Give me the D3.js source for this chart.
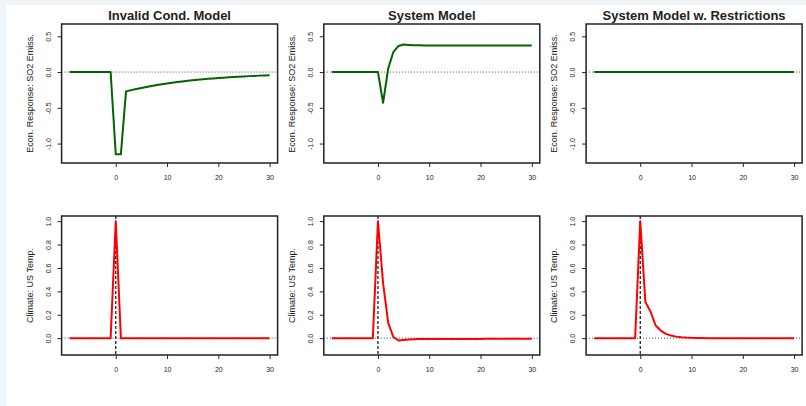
<!DOCTYPE html>
<html>
<head>
<meta charset="utf-8">
<script src="https://cdn.jsdelivr.net/npm/d3@7"></script>
<style>
  body { margin: 0; background: #eef4f8; }
  svg { display: block; }
  text { font-family: "Liberation Sans", Arial, sans-serif; fill: #222; }
</style>
</head>
<body>
<svg id="chart" width="806" height="406"></svg>
<script>
// lags of the impulse response
var lags = [-9, -8, -7, -6, -5, -4, -3, -2, -1, 0, 1, 2, 3, 4, 5, 6, 7, 8, 9, 10,
    11, 12, 13, 14, 15, 16, 17, 18, 19, 20, 21, 22, 23, 24, 25, 26, 27, 28, 29, 30];

var titles = ["Invalid Cond. Model", "System Model", "System Model w. Restrictions"];
var rowLabels = ["Econ. Response: SO2 Emiss.", "Climate: US Temp."];

var xTicks = [0, 10, 20, 30];
var yTicksTop = [-1.0, -0.5, 0.0, 0.5];
var yTickLabelsTop = ["-1.0", "-0.5", "0.0", "0.5"];
var yTicksBottom = [0.0, 0.2, 0.4, 0.6, 0.8, 1.0];
var yTickLabelsBottom = ["0.0", "0.2", "0.4", "0.6", "0.8", "1.0"];

// emissions response (top row)
var so2Invalid = [0, 0, 0, 0, 0, 0, 0, 0, 0, -1.15, -1.15, -0.270, -0.253, -0.237, -0.222,
    -0.208, -0.194, -0.182, -0.170, -0.159, -0.149, -0.140, -0.131, -0.123, -0.115,
    -0.108, -0.101, -0.095, -0.089, -0.084, -0.079, -0.074, -0.069, -0.065, -0.061,
    -0.057, -0.054, -0.050, -0.047, -0.044];
var so2System = [0, 0, 0, 0, 0, 0, 0, 0, 0, 0, -0.43, 0.05, 0.28, 0.365, 0.385,
    0.380, 0.376, 0.374, 0.373, 0.373, 0.373, 0.373, 0.373, 0.373, 0.373,
    0.373, 0.373, 0.373, 0.373, 0.372, 0.372, 0.372, 0.372, 0.372, 0.372,
    0.372, 0.372, 0.372, 0.372, 0.372];
var so2Restricted = [0, 0, 0, 0, 0, 0, 0, 0, 0, 0, 0, 0, 0, 0, 0, 0, 0, 0, 0, 0,
    0, 0, 0, 0, 0, 0, 0, 0, 0, 0, 0, 0, 0, 0, 0, 0, 0, 0, 0, 0];

// temperature response (bottom row)
var tempInvalid = [0, 0, 0, 0, 0, 0, 0, 0, 0, 1.0, 0, 0, 0, 0, 0, 0, 0, 0, 0, 0,
    0, 0, 0, 0, 0, 0, 0, 0, 0, 0, 0, 0, 0, 0, 0, 0, 0, 0, 0, 0];
var tempSystem = [0, 0, 0, 0, 0, 0, 0, 0, 0, 1.0, 0.47, 0.13, 0.01, -0.02, -0.016,
    -0.012, -0.009, -0.008, -0.008, -0.008, -0.008, -0.008, -0.007, -0.007, -0.007,
    -0.007, -0.007, -0.007, -0.007, -0.007, -0.006, -0.006, -0.006, -0.006, -0.006,
    -0.006, -0.006, -0.006, -0.006, -0.006];
var tempRestricted = [0, 0, 0, 0, 0, 0, 0, 0, 0, 1.0, 0.31, 0.228, 0.108, 0.065, 0.037,
    0.022, 0.013, 0.008, 0.005, 0.003, 0.002, 0.001, 0, 0, 0,
    0, 0, 0, 0, 0, 0, 0, 0, 0, 0, 0, 0, 0, 0, 0];

var panels = [
    { row: 0, col: 0, values: so2Invalid },
    { row: 0, col: 1, values: so2System },
    { row: 0, col: 2, values: so2Restricted },
    { row: 1, col: 0, values: tempInvalid },
    { row: 1, col: 1, values: tempSystem },
    { row: 1, col: 2, values: tempRestricted }
];

var svg = d3.select("#chart");
svg.append("rect")
    .attr("x", 6).attr("y", 5)
    .attr("width", 800).attr("height", 401)
    .attr("fill", "#fff");

var colLeft = [61.6, 323.8, 586.1],
    rowTop = [24, 216],
    plotW = 216,
    plotH = 139;

// R style: extend the range by 4% on each side
var pad = function (lo, hi) {
    var d = (hi - lo) * 0.04;
    return [lo - d, hi + d];
};

panels.forEach(function (p) {
    var top = p.row === 0;
    var g = svg.append("g")
        .attr("transform", "translate(" + colLeft[p.col] + "," + rowTop[p.row] + ")");

    var x = d3.scaleLinear().domain(pad(-9, 30)).range([0, plotW]);
    var y = d3.scaleLinear()
        .domain(top ? pad(-1.2, 0.6) : pad(-0.1, 1.0))
        .range([plotH, 0]);

    // reference lines
    g.append("line")
        .attr("x1", 0).attr("x2", plotW)
        .attr("y1", y(0)).attr("y2", y(0))
        .attr("stroke", "#444")
        .attr("stroke-width", 1)
        .attr("stroke-dasharray", "1,2");
    if (!top) {
        g.append("line")
            .attr("x1", x(0)).attr("x2", x(0))
            .attr("y1", 0).attr("y2", plotH)
            .attr("stroke", "#222")
            .attr("stroke-width", 1.3)
            .attr("stroke-dasharray", "3,2");
    }

    // response line
    var line = d3.line()
        .x(function (d, i) { return x(lags[i]); })
        .y(function (d) { return y(d); });
    g.append("path")
        .datum(p.values)
        .attr("d", line)
        .attr("fill", "none")
        .attr("stroke", top ? "#006400" : "#ff0000")
        .attr("stroke-width", 2)
        .attr("stroke-linejoin", "round");

    // x axis
    var ya = top ? yTicksTop : yTicksBottom;
    var yl = top ? yTickLabelsTop : yTickLabelsBottom;
    var xAxis = g.append("g")
        .attr("transform", "translate(0," + plotH + ")")
        .call(d3.axisBottom(x).tickValues(xTicks).tickSize(4).tickSizeOuter(0).tickPadding(0));
    xAxis.select(".domain").remove();
    xAxis.selectAll("line").attr("stroke", "#222");
    xAxis.selectAll("text")
        .attr("y", 16.5).attr("dy", null)
        .attr("font-size", "7px")
        .attr("fill", "#222");

    // y axis
    var yAxis = g.append("g")
        .call(d3.axisLeft(y).tickValues(ya).tickSize(4).tickSizeOuter(0)
            .tickFormat(function (d, i) { return yl[i]; }));
    yAxis.select(".domain").remove();
    yAxis.selectAll("line").attr("stroke", "#222");
    yAxis.selectAll("text")
        .attr("x", null).attr("dy", null)
        .attr("transform", "translate(-11,0) rotate(-90)")
        .attr("text-anchor", "middle")
        .attr("font-size", "7px")
        .attr("fill", "#333");

    // box
    g.append("rect")
        .attr("width", plotW).attr("height", plotH)
        .attr("fill", "none")
        .attr("stroke", "#222")
        .attr("stroke-width", 1.5);

    // y label
    g.append("text")
        .attr("transform", "translate(-28.7," + plotH / 2 + ") rotate(-90)")
        .attr("text-anchor", "middle")
        .attr("font-size", "9px")
        .attr("fill", "#333")
        .text(rowLabels[p.row]);

    if (top) {
        g.append("text")
            .attr("x", plotW / 2).attr("y", -4)
            .attr("text-anchor", "middle")
            .attr("font-size", "13px")
            .attr("font-weight", "bold")
            .attr("fill", "#111")
            .text(titles[p.col]);
    }
});
</script>
</body>
</html>
